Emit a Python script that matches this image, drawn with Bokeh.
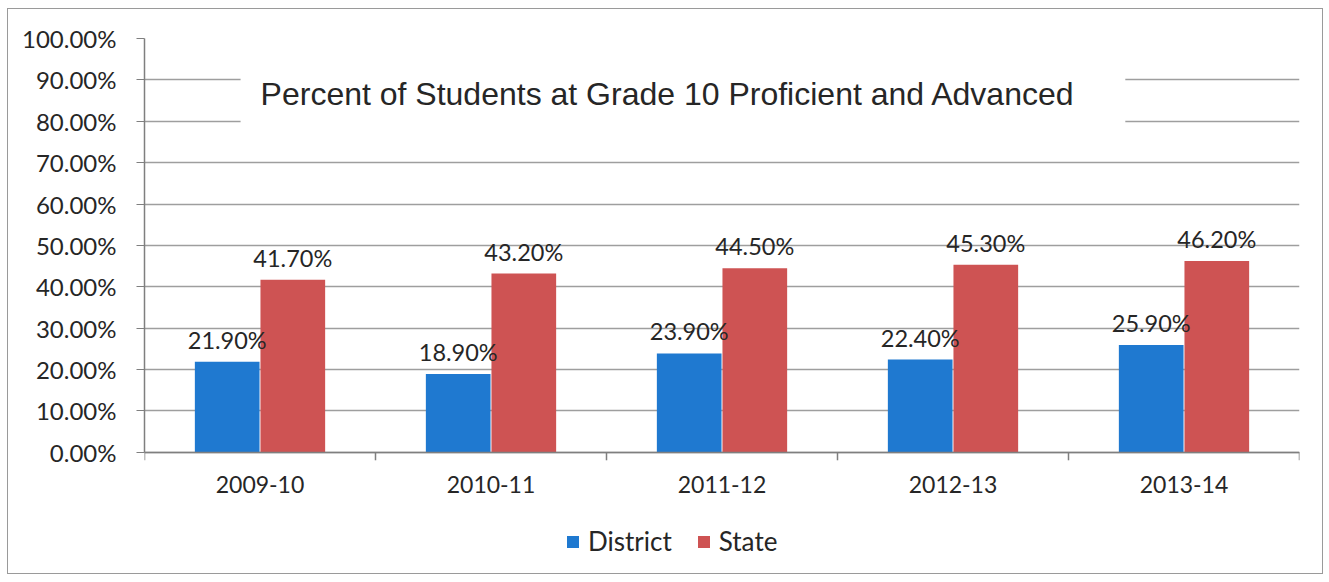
from bokeh.plotting import figure
from bokeh.models import (Range1d, FactorRange, NumeralTickFormatter,
                          CategoricalAxis, FixedTicker, Label, Legend, LegendItem,
                          ColumnDataSource)
from bokeh.transform import dodge
from bokeh.core.properties import value
from bokeh.embed import file_html
from bokeh.resources import INLINE

years = ["2009-10", "2010-11", "2011-12", "2012-13", "2013-14"]
district = [0.219, 0.189, 0.239, 0.224, 0.259]
state = [0.417, 0.432, 0.445, 0.453, 0.462]
district_labels = ["21.90%", "18.90%", "23.90%", "22.40%", "25.90%"]
state_labels = ["41.70%", "43.20%", "44.50%", "45.30%", "46.20%"]
y_ticks = [0.0, 0.1, 0.2, 0.3, 0.4, 0.5, 0.6, 0.7, 0.8, 0.9, 1.0]
boundary_ticks = [0, 1, 2, 3, 4, 5]
series_names = ["District", "State"]
title_text = "Percent of Students at Grade 10 Proficient and Advanced"

BLUE = "#1F79D0"
RED = "#CE5353"
TXT = "#262626"
AXIS = "#7f7f7f"
FONT = "Lato"

PX = 1.0 / 413.0          # one screen pixel in y data units
Y_START = -118 * PX       # room below 0 for the category labels and legend

src = ColumnDataSource(dict(year=years, district=district, state=state,
                            dlab=district_labels, slab=state_labels))

p = figure(x_range=FactorRange(factors=years), y_range=Range1d(Y_START, 1),
           width=1316, height=566, output_backend="svg", toolbar_location=None,
           x_axis_location=None,
           min_border_left=136, min_border_right=25, min_border_top=29,
           min_border_bottom=5)
p.styles = {"border": "1px solid #9a9a9a", "margin-left": "7px", "margin-top": "8px"}
p.outline_line_color = None
p.background_fill_color = "white"
p.border_fill_color = "white"

# bars
r1 = p.vbar(x=dodge("year", -0.142, range=p.x_range), top="district", width=0.28,
            source=src, fill_color=BLUE, line_color=None)
r2 = p.vbar(x=dodge("year", 0.142, range=p.x_range), top="state", width=0.28,
            source=src, fill_color=RED, line_color=None)

# data labels
p.text(x=dodge("year", -0.142, range=p.x_range), y="district", text="dlab", source=src,
       text_font=value(FONT), text_font_size="23.5px", text_align="center",
       text_baseline="bottom", y_offset=-8, text_color=TXT)
p.text(x=dodge("year", 0.142, range=p.x_range), y="state", text="slab", source=src,
       text_font=value(FONT), text_font_size="23.5px", text_align="center",
       text_baseline="bottom", y_offset=-8, text_color=TXT)

# y axis
ya = p.yaxis[0]
ya.ticker = FixedTicker(ticks=y_ticks)
ya.formatter = NumeralTickFormatter(format="0.00%")
ya.bounds = (0, 1)
ya.major_tick_out = 8
ya.major_tick_in = 0
ya.minor_tick_line_color = None
ya.axis_line_color = AXIS
ya.axis_line_width = 1.5
ya.major_tick_line_color = AXIS
ya.major_label_text_font = FONT
ya.major_label_text_font_size = "24px"
ya.major_label_text_color = TXT
ya.major_label_standoff = 20

p.ygrid.ticker = FixedTicker(ticks=y_ticks)
p.ygrid.grid_line_color = "#9e9e9e"
p.ygrid.grid_line_width = 1.5
p.xgrid.visible = False

# category axis fixed at y = 0
cat_ax = CategoricalAxis(fixed_location=0, axis_line_color=AXIS, axis_line_width=1.5,
                         major_tick_line_color=None,
                         major_tick_out=0, major_tick_in=0, major_label_standoff=24,
                         major_label_text_font=FONT, major_label_text_font_size="23px",
                         major_label_text_color=TXT)
p.add_layout(cat_ax, "below")

# tick marks at category boundaries
p.segment(x0=boundary_ticks, y0=[0] * len(boundary_ticks),
          x1=boundary_ticks, y1=[-8 * PX] * len(boundary_ticks),
          line_color=AXIS, line_width=1.5)

# title box
title = Label(x=2.266, y=0.865, x_offset=15, text=title_text, text_font="Liberation Sans",
              text_font_size="32px", text_align="center", text_baseline="middle",
              text_color=TXT, background_fill_color="white",
              padding=dict(top=26, bottom=26, left=20, right=50))
p.add_layout(title)

# legend
legend = Legend(items=[LegendItem(label=series_names[0], renderers=[r1]),
                       LegendItem(label=series_names[1], renderers=[r2])],
                orientation="horizontal", location=(421, 13),
                border_line_color=None, background_fill_alpha=0,
                glyph_width=15, glyph_height=15, label_standoff=8, spacing=24,
                padding=0, margin=0,
                label_text_font=FONT, label_text_font_size="26px",
                label_text_color=TXT)
p.add_layout(legend, "center")

open("out.html", "w").write(file_html(p, INLINE))
